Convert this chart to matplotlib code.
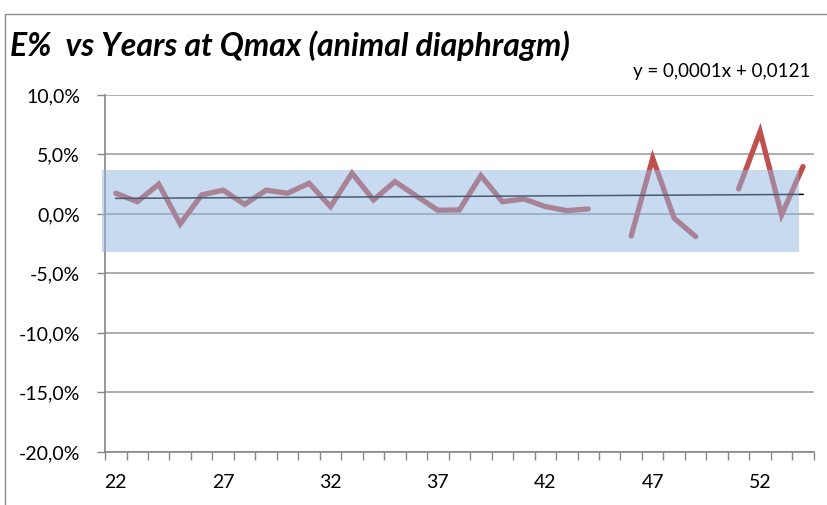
import numpy as np
import matplotlib
matplotlib.use("Agg")
import matplotlib.pyplot as plt
from matplotlib.patches import Rectangle
from matplotlib.ticker import FuncFormatter, FixedLocator

# years (category axis) and E% at Qmax, NaN = no measurement
years = list(range(22, 55))
e_pct = [1.74, 1.03, 2.50, -0.84, 1.60, 2.00, 0.80, 2.00, 1.74, 2.58,
         0.62, 3.42, 1.18, 2.72, 1.50, 0.31, 0.34, 3.22, 1.03, 1.26,
         0.62, 0.28, 0.42, np.nan, -1.85, 4.68, -0.36, -1.90, np.nan, 2.10,
         6.92, -0.08, 3.98]
band_low, band_high = -3.17, 3.70
equation = "y = 0,0001x + 0,0121"
title = "E%  vs Years at Qmax (animal diaphragm)"
yticks = [-20, -15, -10, -5, 0, 5, 10]
xlabels = [22, 27, 32, 37, 42, 47, 52]

plt.rcParams['font.family'] = ['Lato', 'DejaVu Sans']

x = np.array(years, dtype=float)
y = np.array(e_pct)

fig = plt.figure(figsize=(8.27, 5.05), dpi=100)
ax = fig.add_axes([0.127, 0.105, 0.857, 0.707])

# outer chart border
fig.patches.append(Rectangle((0.006, -0.05), 1.1, 0.972 + 0.05, transform=fig.transFigure,
                             fill=False, edgecolor='#8c8c8c', linewidth=1.0))

ax.plot(x, y, color='#c0504d', linewidth=3.8, solid_capstyle='round',
        solid_joinstyle='miter', zorder=3)

# linear trend on the category index
idx = np.arange(1, len(years) + 1)
ok = ~np.isnan(y)
slope, icpt = np.polyfit(idx[ok], y[ok], 1)
ax.plot(x[[0, -1]], slope * idx[[0, -1]] + icpt, color='black', linewidth=1.1, zorder=4)

# semi transparent band on top of everything
ax.add_patch(Rectangle((21.37, band_low), 53.79 - 21.37, band_high - band_low,
                       facecolor='#91b6e2', alpha=0.5, edgecolor='none',
                       zorder=10, clip_on=False))

ax.set_xlim(21.5, 54.5)
ax.set_ylim(-20, 10)
ax.set_yticks(yticks)
ax.yaxis.set_major_formatter(FuncFormatter(lambda v, p: f"{v:.1f}%".replace('.', ',')))
ax.xaxis.set_major_locator(FixedLocator(xlabels))
ax.xaxis.set_minor_locator(FixedLocator(np.arange(21.5, 55, 1.0)))
ax.tick_params(axis='x', which='major', length=0, pad=16, labelsize=14, colors='black')
ax.tick_params(axis='x', which='minor', length=6, width=1, color='#868686', direction='out')
ax.tick_params(axis='y', length=6, width=1, color='#868686', direction='out',
               labelsize=14, pad=12)
ax.grid(axis='y', color='#a0a0a0', linewidth=1.2, zorder=1)
ax.set_axisbelow(True)
for s in ['top', 'right']:
    ax.spines[s].set_visible(False)
for s in ['left', 'bottom']:
    ax.spines[s].set_color('#868686')
    ax.spines[s].set_linewidth(1.2)

fig.text(0.012, 0.91, title, fontsize=23, fontweight='bold', style='italic',
         ha='left', va='center')
fig.text(0.980, 0.858, equation, fontsize=13.5, ha='right', va='center')

fig.savefig("out.png", dpi=100)
